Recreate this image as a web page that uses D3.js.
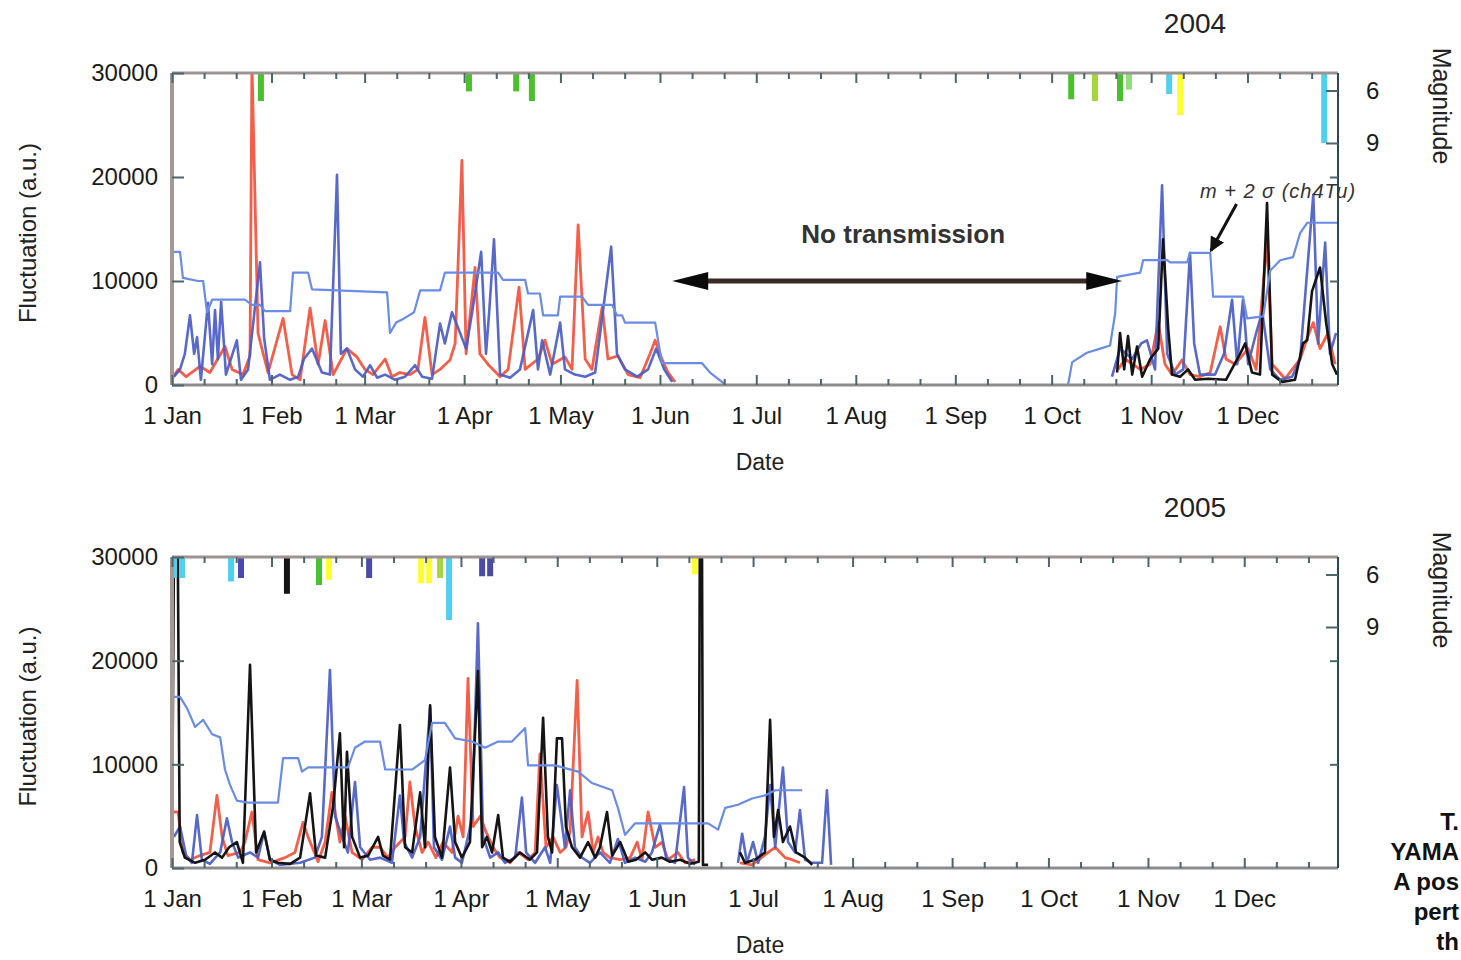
<!DOCTYPE html>
<html><head><meta charset="utf-8">
<script src="https://cdn.jsdelivr.net/npm/d3@7/dist/d3.min.js"></script>
<style>
body{margin:0;background:#fff}
svg{display:block}
text{font-family:"Liberation Sans",Arial,sans-serif}
</style>
</head><body>
<svg id="chart" width="1461" height="960"></svg>
<script>
// ---------------- DATA (day-of-year, value) ----------------
const yTicks = [0, 10000, 20000, 30000];
const magTicks = [6, 9];

// 2004
const red2004 = [[0,600],[1.9,1500],[4.4,800],[8.7,1800],[11.8,1200],[16.5,3700],[18.7,1500],[22.1,1000],[24.3,2800],[24.9,31000],[26.8,5000],[28.0,3500],[29.9,1200],[34.6,6400],[37.4,1000],[39.9,500],[43.0,7400],[45.5,2000],[47.7,6200],[50.2,1000],[54.5,3500],[57.6,2700],[60.1,1500],[62.6,1000],[66.4,2500],[68.5,800],[71.0,1200],[74.1,1000],[76.6,1500],[78.8,6500],[81.0,1000],[83.5,1500],[86.6,2400],[88.2,4000],[90.3,21600],[91.6,3000],[94.4,11300],[95.9,3000],[98.4,2000],[102.2,800],[104.7,1500],[108.1,9400],[110.0,1500],[114.0,2500],[116.2,4300],[118.4,2000],[122.4,2700],[124.6,1500],[126.5,15400],[128.7,2500],[130.8,1500],[134.0,7500],[135.8,2500],[138.9,2800],[142.1,1000],[145.8,700],[148.9,3000],[150.5,4300],[152.6,2500],[154.5,1200],[156.7,300],[157,null],
  [294.7,1500],[296.9,2500],[301.6,1500],[304.7,2000],[307.2,6000],[309.3,2000],[311.5,1000],[314.6,2400],[317.1,1000],[320.2,800],[323.4,1200],[326.5,5600],[328.3,2500],[331.2,2000],[335.2,3500],[337.7,1500],[341.1,14000],[342.7,2000],[346.7,600],[351.4,2500],[353.6,4500],[355.5,6000],[357.6,3500],[360.1,5000],[362.3,2000]];

const blue2004 = [[0.6,800],[2.5,1500],[4.0,3000],[5.6,6700],[6.9,3000],[7.8,4600],[9.0,500],[11.2,7900],[12.5,2000],[13.4,7200],[14.3,2500],[15.3,8000],[16.8,1000],[20.2,4300],[21.5,500],[23.7,1500],[27.4,11800],[28.7,4500],[30.5,500],[33.6,1000],[36.8,500],[39.3,800],[41.1,2500],[43.6,3500],[46.7,1200],[49.2,1000],[51.4,20200],[52.6,3000],[54.5,3500],[57.0,1500],[59.5,800],[61.7,1900],[63.9,700],[66.4,1000],[69.5,500],[72.6,800],[75.7,1900],[77.9,800],[81.0,600],[83.5,5900],[85.0,4000],[87.2,7000],[89.1,5500],[91.6,3500],[93.5,7000],[96.3,12800],[97.8,3000],[98.8,7000],[100.3,14000],[102.2,1000],[105.3,700],[108.4,1500],[112.5,7200],[114.0,1500],[115.3,4300],[117.8,1000],[120.9,6000],[122.4,1500],[125.5,1000],[128.7,800],[131.8,1200],[136.8,13300],[138.6,3000],[141.1,1500],[144.9,800],[148.3,1500],[150.8,3500],[153.3,1500],[155.8,300],[156,null],
  [292.8,800],[295.3,3500],[299.1,2500],[301.9,4000],[303.7,4300],[306.2,1500],[308.4,19200],[310.0,3000],[312.5,1000],[315.0,1500],[317.1,12700],[318.4,4000],[320.2,1000],[324.9,1000],[327.7,3000],[330.2,8200],[331.8,2000],[333.6,8200],[335.2,2000],[337.7,5000],[339.6,7000],[342.1,1500],[345.2,500],[348.9,800],[351.4,2500],[355.5,18300],[357.0,4000],[359.2,13700],[360.7,3000],[362.6,5000]];

const black2004 = [[294.4,1200],[295.3,5000],[296.6,1500],[297.8,4700],[299.1,1000],[300.6,3700],[302.2,800],[304.7,2500],[307.2,3500],[308.7,14000],[310.3,5500],[311.5,1000],[314.0,800],[316.5,1500],[318.7,500],[322.7,600],[328.3,500],[332.7,3000],[334.3,4000],[336.4,1200],[338.9,1000],[341.1,17500],[342.7,1000],[345.8,300],[349.8,500],[352.3,4000],[353.6,4300],[355.1,9000],[357.6,11300],[359.5,6000],[361.4,2000],[362.9,1000]];

const threshold2004 = [[0,12800],[2.5,12800],[3.4,10300],[8.1,10000],[9.7,10000],[10.9,7000],[12.5,8200],[22.7,8200],[24.9,7700],[27.4,7700],[29.0,7100],[36.8,7100],[37.7,10800],[42.4,10800],[43.6,9200],[67.0,8900],[67.9,5000],[69.8,6000],[72.3,6400],[75.4,7000],[77.3,9100],[83.5,9100],[85.0,10800],[101.6,10800],[103.1,10100],[110.0,10100],[110.9,8800],[114.6,8800],[115.6,6700],[120.2,6700],[120.9,8500],[127.7,8500],[129.6,7700],[137.1,7700],[138.6,6700],[140.2,6700],[141.1,6000],[150.5,6000],[152.6,2100],[165.1,2100],[167.6,1200],[171.3,300],[172.3,0],[173,null],
  [279.1,0],[280.4,2200],[285.0,3100],[289.1,3500],[292.2,3800],[293.8,6900],[294.4,10400],[301.6,10800],[302.5,12000],[310.0,12000],[310.9,11800],[316.2,11800],[317.1,12700],[323.4,12700],[324.3,8500],[333.6,8500],[334.9,6400],[339.9,6600],[342.1,11000],[345.2,12000],[349.2,12300],[351.4,14600],[353.6,15600],[362.9,15600]];

// earthquakes: [day, magnitude, class]
const quakes2004 = [[27.7,6.6,"g"],[92.5,6.05,"g"],[107.2,6.05,"g"],[112.1,6.6,"g"],[280.1,6.5,"g"],[287.5,6.6,"l"],[295.3,6.6,"g"],[298.1,5.95,"p"],[310.6,6.2,"c"],[314.0,7.4,"y"],[358.9,9.0,"c"]];

// 2005
const red2005 = [[0,5400],[1.9,5400],[3.4,1500],[5.6,800],[8.7,1200],[11.8,1500],[14.0,7000],[15.6,3000],[17.4,1200],[21.2,1500],[22.7,2500],[24.9,5400],[26.8,800],[30.5,500],[35.2,1000],[38.3,1500],[40.8,4400],[42.4,3000],[45.5,600],[47.7,2500],[49.8,7300],[52.3,2500],[53.9,5000],[56.1,1500],[59.2,800],[62.3,2000],[64.8,2000],[67.3,1000],[69.5,2000],[72.6,3000],[74.1,8300],[75.7,4000],[77.9,1500],[79.8,2500],[82.2,1000],[84.4,2500],[87.2,1500],[89.1,5000],[90.7,3000],[92.2,18300],[93.8,4000],[96.0,5000],[97.8,3500],[100.0,2000],[102.2,1000],[105.3,500],[107.8,1500],[110.9,800],[113.1,1500],[114.6,11000],[116.5,2000],[118.7,3000],[120.9,1500],[122.7,2000],[124.0,3500],[126.2,18100],[127.7,3000],[129.6,5400],[131.2,1500],[132.7,3000],[134.3,1500],[136.4,1000],[139.6,800],[142.7,1000],[144.9,2500],[146.4,800],[148.3,5400],[150.5,2000],[152.6,2500],[154.5,800],[157.6,1500],[159.8,500],[162.9,800],[163,null],
  [176.9,500],[180.7,300],[185.7,1500],[187.9,2000],[191.0,1000],[193.1,800],[195.6,500]];

const blue2005 = [[0.6,3000],[2.5,4000],[4.4,1200],[6.2,500],[7.8,5100],[9.3,800],[11.8,400],[15.0,1500],[17.1,4800],[18.7,2500],[20.6,1000],[24.3,1500],[26.8,1000],[28.7,3500],[30.5,800],[33.6,300],[39.9,500],[44.5,1000],[46.7,3000],[49.2,19100],[50.8,5000],[53.0,3000],[54.8,1500],[57.0,8300],[58.6,2000],[61.7,800],[64.8,1000],[68.5,500],[71.0,7000],[72.3,2500],[74.8,1000],[77.3,3000],[80.4,15500],[81.6,2000],[84.1,800],[86.6,4000],[88.2,1000],[90.3,500],[92.2,3000],[93.5,5000],[95.3,23600],[96.9,3000],[99.1,1000],[101.6,1500],[103.7,500],[106.9,1000],[109.0,6800],[110.3,1500],[113.1,500],[116.2,2000],[117.8,500],[119.9,8000],[122.4,2000],[124.0,7500],[125.5,2000],[127.7,1000],[130.2,500],[133.3,1500],[136.4,500],[138.9,2800],[141.1,500],[144.2,1000],[147.4,600],[149.5,1500],[152.0,4200],[153.9,1000],[156.7,500],[159.5,7800],[160.7,1000],[162.9,300],[163,null],
  [176.3,500],[177.6,3300],[179.1,500],[181.0,2500],[182.6,500],[184.7,3000],[186.3,8000],[187.9,2000],[190.3,9700],[191.9,2500],[194.1,1500],[195.6,5600],[197.2,800],[199.4,500],[202.5,500],[204.0,7500],[205.3,300]];

const black2005 = [[0,2000],[0.8,40000],[1.6,40000],[2.4,2500],[4.0,1000],[7.2,500],[10.3,800],[13.4,1500],[15.6,1000],[17.8,2000],[20.2,2500],[22.1,500],[24.3,19600],[26.2,1500],[28.7,3500],[30.5,800],[33.0,500],[36.8,400],[39.9,1000],[43.0,7200],[44.9,1200],[47.7,1000],[50.2,6000],[52.3,13000],[53.6,2000],[54.5,11200],[56.1,3000],[58.6,1000],[61.1,1200],[64.2,3000],[65.7,1200],[67.9,800],[71.0,13800],[72.6,2000],[74.8,1500],[77.3,7300],[78.8,2000],[80.4,15700],[81.9,3000],[84.1,1000],[86.6,9700],[88.2,2500],[90.3,1000],[92.8,2500],[95.3,19000],[96.6,2000],[98.1,3000],[99.7,1500],[101.6,5100],[103.1,1000],[105.3,600],[108.4,1500],[111.5,800],[113.7,1500],[115.6,14500],[117.1,3000],[118.4,1500],[119.9,12500],[121.5,12500],[122.7,4000],[124.6,2000],[127.1,1000],[129.6,2500],[131.8,1000],[133.3,2000],[135.5,5400],[137.1,1200],[139.6,2500],[142.1,600],[144.5,800],[147.4,1500],[149.5,800],[152.6,1000],[155.1,600],[158.3,800],[161.4,400],[164.1,600],[164.5,40000],[165.0,40000],[165.4,300],[167.0,300],[167.1,null],
  [176.9,1500],[178.5,500],[181.6,800],[184.7,1500],[186.3,14300],[187.5,3000],[188.8,5600],[190.3,2500],[192.5,4000],[194.4,1500],[197.2,1000],[199.4,300]];

const threshold2005 = [[0,16500],[2.5,16500],[4.7,15400],[7.2,13600],[9.7,14300],[12.5,12900],[15.0,12600],[16.5,9500],[18.1,8000],[20.2,6500],[23.7,6300],[33.0,6300],[34.6,10600],[39.3,10600],[40.5,9300],[42.4,9700],[54.8,9700],[57.0,11600],[60.1,12200],[64.8,12200],[66.4,9500],[74.8,9500],[78.8,10400],[81.0,14000],[85.0,14000],[88.2,12500],[93.5,12200],[97.5,11600],[101.6,12200],[105.9,12200],[110.0,13500],[110.9,9900],[119.3,9900],[126.5,9300],[130.8,8200],[137.1,7500],[138.9,5800],[141.1,3200],[144.2,4300],[167.0,4300],[170.1,3700],[172.3,5800],[176.3,6100],[180.7,6700],[184.7,7000],[187.9,7500],[196.3,7500]];

const quakes2005 = [[0.6,6.2,"c"],[3.1,6.2,"c"],[18.4,6.4,"c"],[21.5,6.2,"n"],[35.8,7.1,"k"],[45.8,6.6,"g"],[48.9,6.3,"y"],[61.4,6.2,"n"],[77.6,6.5,"y"],[80.1,6.5,"y"],[83.5,6.2,"l"],[86.3,8.6,"c"],[96.6,6.1,"n"],[99.1,6.1,"n"],[162.9,6.0,"y"]];

// annotation anchors (data units)
const noTransmission = {start: 155.8, end: 296, level: 10000, label: "No transmission"};
const thresholdNote = {label: "m + 2 σ (ch4Tu)", labelDay: 320.2, labelLevel: 18000, tailDay: 331.6, tailLevel: 17400, tipDay: 323.6, tipLevel: 12900};

// visible fragments of the caption cut by the right page edge
const sideNote = ["T.", "YAMA", "A pos", "pert", "th"];

// ---------------- DRAW ----------------
const svg = d3.select("#chart");
const defs = svg.append("defs");
const quakeColor = d3.scaleOrdinal()
  .domain(["g","l","p","c","y","n","k"])
  .range(["#48c12c","#a6d63e","#8fe07a","#4fd0f0","#ffff30","#4b4aa6","#151515"]);

defs.append("marker").attr("id","ah").attr("viewBox","0 0 10 10").attr("refX",9).attr("refY",5)
  .attr("markerWidth",5).attr("markerHeight",5).attr("orient","auto")
  .append("path").attr("d","M0,0L10,5L0,10Z").attr("fill","#111");

function panel(cfg){
  const {year, top, bottom} = cfg;
  const left = 172, right = 1338;
  const t0 = Date.UTC(year,0,1);
  const toDate = d => new Date(t0 + d*864e5);
  const x = d3.scaleUtc().domain([toDate(0), toDate(363.2)]).range([left,right]);
  const y = d3.scaleLinear().domain([0,30000]).range([bottom,top]);
  const m = d3.scaleLinear().domain([5,9]).range([top, top+70]);
  const X = d => x(toDate(d));

  const clipId = "clip"+year;
  defs.append("clipPath").attr("id",clipId).append("rect")
    .attr("x",left).attr("y",top).attr("width",right-left).attr("height",bottom-top);

  const g = svg.append("g");
  const plot = g.append("g").attr("clip-path",`url(#${clipId})`);

  const line = d3.line().defined(d => d[1] != null).x(d => X(d[0])).y(d => y(d[1]));

  plot.append("path").datum(cfg.red).attr("d",line).attr("fill","none")
    .attr("stroke","#f4482f").attr("stroke-width",2.8).attr("stroke-linejoin","round").attr("opacity",0.88);
  plot.append("path").datum(cfg.blue).attr("d",line).attr("fill","none")
    .attr("stroke","#4a5cc6").attr("stroke-width",2.6).attr("stroke-linejoin","round").attr("opacity",0.92);
  if (cfg.black) plot.append("path").datum(cfg.black).attr("d",line).attr("fill","none")
    .attr("stroke","#141414").attr("stroke-width",2.6).attr("stroke-linejoin","round");
  plot.append("path").datum(cfg.threshold).attr("d",line).attr("fill","none")
    .attr("stroke","#6a8ce6").attr("stroke-width",2.2).attr("stroke-linejoin","round");

  // earthquake bars
  plot.selectAll("rect.q").data(cfg.quakes).join("rect").attr("class","q")
    .attr("x", d => X(d[0]) - 3).attr("y", top)
    .attr("width", 6).attr("height", d => m(d[1]) - top)
    .attr("fill", d => quakeColor(d[2]));

  // frame
  g.append("line").attr("x1",left).attr("x2",right).attr("y1",top).attr("y2",top).attr("stroke","#9c9494").attr("stroke-width",3);
  g.append("line").attr("x1",left).attr("x2",right).attr("y1",bottom).attr("y2",bottom).attr("stroke","#8c8c8c").attr("stroke-width",3);
  g.append("line").attr("x1",left).attr("x2",left).attr("y1",top).attr("y2",bottom).attr("stroke","#a59893").attr("stroke-width",4);
  g.append("line").attr("x1",right).attr("x2",right).attr("y1",top).attr("y2",bottom).attr("stroke","#2e4650").attr("stroke-width",2);

  const monthStarts = d3.range(12).map(i => new Date(Date.UTC(year,i,1)));
  const minor = [];
  d3.range(12).forEach(i => { minor.push(new Date(Date.UTC(year,i,11))); minor.push(new Date(Date.UTC(year,i,21))); });
  const minorIn = minor.filter(d => d <= x.domain()[1]);

  const tickStyle = sel => { sel.select(".domain").remove(); sel.selectAll(".tick line").attr("stroke","#4c666c").attr("stroke-width",2); };
  const labelStyle = s => s.selectAll("text").attr("font-size",24).attr("fill","#1a1a1a").attr("font-family","Liberation Sans, Arial, sans-serif");

  g.append("g").attr("transform",`translate(0,${bottom})`)
    .call(d3.axisBottom(x).tickValues(monthStarts).tickSize(-10).tickPadding(22).tickFormat(d3.utcFormat("%-d %b")))
    .call(tickStyle).call(labelStyle);
  g.append("g").attr("transform",`translate(0,${bottom})`)
    .call(d3.axisBottom(x).tickValues(minorIn).tickSize(-6).tickFormat("")).call(tickStyle);
  g.append("g").attr("transform",`translate(0,${top})`)
    .call(d3.axisTop(x).tickValues(monthStarts).tickSize(-10).tickFormat("")).call(tickStyle);
  g.append("g").attr("transform",`translate(0,${top})`)
    .call(d3.axisTop(x).tickValues(minorIn).tickSize(-6).tickFormat("")).call(tickStyle);

  g.append("g").attr("transform",`translate(${left},0)`)
    .call(d3.axisLeft(y).tickValues(yTicks).tickSize(-12).tickPadding(14).tickFormat(d3.format("d")))
    .call(tickStyle).call(labelStyle);

  g.append("g").attr("transform",`translate(${right},0)`)
    .call(d3.axisRight(m).tickValues(magTicks).tickSize(-12).tickPadding(28).tickFormat(d3.format("d")))
    .call(tickStyle).call(labelStyle);
  g.append("g").attr("transform",`translate(${right},0)`)
    .call(d3.axisRight(y).tickValues([10000,20000]).tickSize(-8).tickFormat("")).call(tickStyle);

  // titles
  g.append("text").attr("x",1195).attr("y",top-40).attr("text-anchor","middle")
    .attr("font-size",28).attr("fill","#222").text(String(year));
  g.append("text").attr("x",760).attr("y",bottom+85).attr("text-anchor","middle")
    .attr("font-size",23).attr("fill","#222").text("Date");
  g.append("text").attr("transform",`translate(36,${(top+bottom)/2 + 4}) rotate(-90)`).attr("text-anchor","middle")
    .attr("font-size",24).attr("fill","#222").text("Fluctuation (a.u.)");
  g.append("text").attr("transform",`translate(1433,${top+33}) rotate(90)`).attr("text-anchor","middle")
    .attr("font-size",25).attr("fill","#222").text("Magnitude");

  return {x: X, y, g};
}

const p1 = panel({year:2004, top:73, bottom:385, red:red2004, blue:blue2004, black:black2004, threshold:threshold2004, quakes:quakes2004});
const p2 = panel({year:2005, top:557, bottom:868, red:red2005, blue:blue2005, black:black2005, threshold:threshold2005, quakes:quakes2005});

// No transmission annotation
{
  const {x, y, g} = p1;
  const x1 = x(noTransmission.start), x2 = x(noTransmission.end), yy = y(noTransmission.level);
  g.append("line").attr("x1",x1+20).attr("x2",x2-20).attr("y1",yy).attr("y2",yy)
    .attr("stroke","#3a2a26").attr("stroke-width",5);
  g.append("path").attr("d",`M${x1},${yy}L${x1+36},${yy-9}L${x1+36},${yy+9}Z`).attr("fill","#0a0a0a");
  g.append("path").attr("d",`M${x2},${yy}L${x2-36},${yy-9}L${x2-36},${yy+9}Z`).attr("fill","#0a0a0a");
  g.append("text").attr("x",(x1+x2)/2+6).attr("y",yy-38).attr("text-anchor","middle")
    .attr("font-size",26).attr("font-weight","bold").attr("fill","#333").text(noTransmission.label);

  g.append("line").attr("x1",x(thresholdNote.tailDay)).attr("y1",y(thresholdNote.tailLevel))
    .attr("x2",x(thresholdNote.tipDay)).attr("y2",y(thresholdNote.tipLevel))
    .attr("stroke","#111").attr("stroke-width",3).attr("marker-end","url(#ah)");
  g.append("text").attr("x",x(thresholdNote.labelDay)).attr("y",y(thresholdNote.labelLevel))
    .attr("font-size",20).attr("letter-spacing",1).attr("font-style","italic").attr("fill","#333").text(thresholdNote.label);
}

// cut-off side caption fragments (right-aligned at page edge)
svg.append("g").selectAll("text").data(sideNote).join("text")
  .attr("x",1459).attr("text-anchor","end")
  .attr("y",(d,i) => 830 + i*30)
  .attr("font-size",24).attr("font-weight","bold").attr("fill","#111").text(d => d);
</script>
</body></html>
